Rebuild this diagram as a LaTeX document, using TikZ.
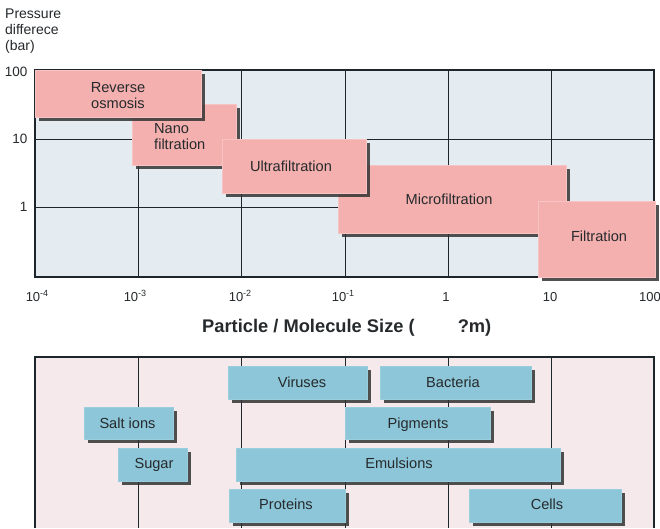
\documentclass[tikz,border=0pt]{standalone}
\usepackage{fontspec}
\setmainfont{Liberation Sans}
\usetikzlibrary{shadows,fit}
\definecolor{pinkfill}{HTML}{F4B0AF}
\definecolor{pinkedge}{HTML}{F7C4C3}
\definecolor{bluefill}{HTML}{8CC6D8}
\definecolor{blueedge}{HTML}{9ACEDD}
\definecolor{topbg}{HTML}{E4ECF2}
\definecolor{botbg}{HTML}{F5E9EC}
\definecolor{gridcol}{HTML}{1C262B}
\definecolor{txtcol}{HTML}{262A2C}
\newcommand\tsup[1]{\raisebox{4.8pt}{\fontsize{9}{9}\selectfont #1}}
\tikzset{
  gridline/.style={draw=gridcol, line width=0.9pt},
  frameline/.style={draw=gridcol, line width=1.3pt},
  shadowed/.style={drop shadow={shadow xshift=3.6pt, shadow yshift=-3.6pt, fill=black!80, opacity=0.85}},
  pbox/.style={shadowed, fill=pinkfill, draw=pinkedge, line width=0.6pt, inner sep=0pt},
  bbox/.style={shadowed, fill=bluefill, draw=blueedge, line width=0.6pt, inner sep=0pt},
  boxtxt/.style={font=\fontsize{14.6}{16}\selectfont, text=txtcol, inner sep=0pt, text height=10.4pt, text depth=0pt},
  twoline/.style={font=\fontsize{14.6}{15.7}\selectfont, text=txtcol, inner sep=0pt},
  ticklab/.style={font=\fontsize{13}{14}\selectfont, text=txtcol, inner sep=0pt, anchor=base},
  ylab/.style={font=\fontsize{13.5}{15}\selectfont, text=txtcol, inner sep=0pt, anchor=east, text height=9.6pt, text depth=0pt},
  axtitle/.style={font=\fontsize{14}{16}\selectfont, text=txtcol, inner sep=0pt, anchor=base west},
  xtitle/.style={font=\bfseries\fontsize{18.3}{20}\selectfont, text=txtcol, inner sep=0pt, anchor=base west}
}
\begin{document}
\begin{tikzpicture}[x=1pt,y=-1pt]
\useasboundingbox[fill=white] (0,0) rectangle (660,528);
% backgrounds
\fill[topbg] (35,70) rectangle (654,277);
\fill[botbg] (35,357) rectangle (654,528);
% grid top
\foreach \x in {138,241,345,448,551} \draw[gridline] (\x,70) -- (\x,277);
\draw[gridline] (35,139) -- (654,139);
\draw[gridline] (35,207) -- (654,207);
\draw[frameline] (35,277) -- (35,70) -- (654,70) -- (654,277) -- cycle;
% grid bottom
\foreach \x in {138,241,345,448,551} \draw[gridline] (\x,357) -- (\x,528);
\draw[frameline] (35,528) -- (35,357) -- (654,357) -- (654,528);
% axis texts
\node[axtitle] (pa1) at (5,18.5) {Pressure};
\node[axtitle] (pa2) at (5,34.5) {differece};
\node[axtitle] (pa3) at (5,50.5) {(bar)};
\node[ylab] (y100) at (27.5,71.5) {100};
\node[ylab] (y10) at (27.5,139) {10};
\node[ylab] (y1) at (27.5,207) {1};
\node[ticklab] (xm4) at (37,301.5) {10\tsup{-4}};
\node[ticklab] (xm3) at (135,301.5) {10\tsup{-3}};
\node[ticklab] (xm2) at (240,301.5) {10\tsup{-2}};
\node[ticklab] (xm1) at (343,301.5) {10\tsup{-1}};
\node[ticklab] (x0) at (446,301.5) {1};
\node[ticklab] (x1) at (550,301.5) {10};
\node[ticklab] (x2) at (650,301.5) {100};
\node[xtitle] (xt) at (202,332) {Particle / Molecule Size (\hspace{43pt}?m)};
% pink boxes (drawing order matters for overlaps)
\node[pbox, fit={(132,104) (236,165)}] (nano) {};
\node[twoline, anchor=west, align=left] (nanot) at (154,136.2) {Nano\\filtration};
\node[pbox, fit={(35,70) (201,117)}] (ro) {};
\node[twoline, align=center] (rot) at (118,95.7) {Reverse\\osmosis};
\node[pbox, fit={(338,165) (566,233)}] (mf) {};
\node[boxtxt] (mft) at (449,199) {Microfiltration};
\node[pbox, fit={(222,139) (366,193)}] (uf) {};
\node[boxtxt] (uft) at (291,166) {Ultrafiltration};
\node[pbox, fit={(538,201) (655,277)}] (filt) {};
\node[boxtxt] (filtt) at (599,236) {Filtration};
% blue boxes
\node[bbox, fit={(228,366) (367,399)}] (vir) {};
\node[boxtxt] (virt) at (302,382.5) {Viruses};
\node[bbox, fit={(380,366) (531,399)}] (bac) {};
\node[boxtxt] (bact) at (453,382.5) {Bacteria};
\node[bbox, fit={(84,407) (173,439)}] (salt) {};
\node[boxtxt] (saltt) at (127.5,423) {Salt ions};
\node[bbox, fit={(345,407) (490,439)}] (pig) {};
\node[boxtxt] (pigt) at (418,423) {Pigments};
\node[bbox, fit={(118,448) (187,481)}] (sug) {};
\node[boxtxt] (sugt) at (154,463.5) {Sugar};
\node[bbox, fit={(236,448) (560,481)}] (emu) {};
\node[boxtxt] (emut) at (399,463.5) {Emulsions};
\node[bbox, fit={(229,489) (345,522)}] (pro) {};
\node[boxtxt] (prot) at (286,504.5) {Proteins};
\node[bbox, fit={(469,489) (621,522)}] (cel) {};
\node[boxtxt] (celt) at (547,504.5) {Cells};
\end{tikzpicture}
\end{document}
